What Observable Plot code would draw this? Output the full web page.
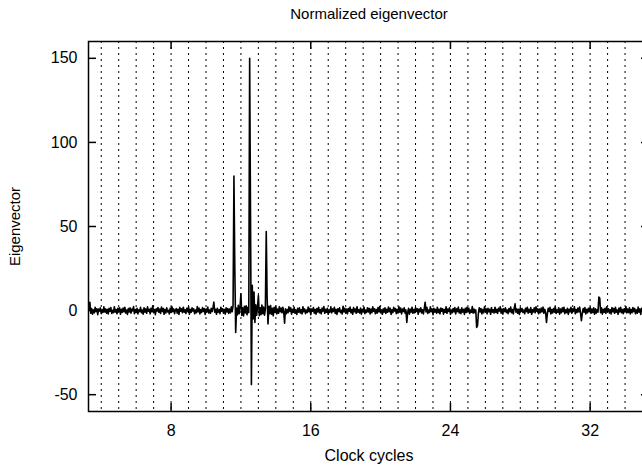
<!DOCTYPE html>
<html><head><meta charset="utf-8">
<script src="https://cdn.jsdelivr.net/npm/d3@7"></script>
<script src="https://cdn.jsdelivr.net/npm/@observablehq/plot@0.6"></script>
<style>body{margin:0;background:#fff;overflow:hidden} svg{display:block}</style>
</head><body><div id="chart"></div>
<script>
const title = "Normalized eigenvector";
const xLabel = "Clock cycles";
const yLabel = "Eigenvector";
const xTicks = [8, 16, 24, 32];
const yTicks = [-50, 0, 50, 100, 150];
const gridX = [4,5,6,7,8,9,10,11,12,13,14,15,16,17,18,19,20,21,22,23,24,25,26,27,28,29,30,31,32,33,34,35];
const xStart = 3.3, xStep = 0.05;
const eigen = [
0.8, 5, -1.6, 1.2, -2.1, 0.4, -1.3, 1.9, -0.6, 1.1, -2.4, 0.9, -0.3, 1.6, -1.8, 0.5, -1.1, 2.2, -0.8, 1.0,
-1.5, 0.7, -2.0, 1.4, -0.4, 1.8, -1.7, 0.2, -1.2, 2.3, -0.9, 0.6, -1.9, 1.3, -0.5, 1.7, -2.2, 0.8, -1.0, 1.5,
-0.7, 2.0, -1.4, 0.3, -2.3, 1.2, -0.8, 1.6, -1.5, 0.9, -0.2, 2.4, -1.8, 0.6, -1.1, 1.3, -2.0, 0.5, -0.6, 1.9,
-1.3, 0.4, -2.1, 1.7, -0.9, 1.0, -1.6, 2.2, -0.4, 0.8, -1.9, 1.4, -0.7, 2.8, -1.2, 0.6, -2.4, 1.1, -0.3, 1.8,
-1.0, 0.9, -1.7, 2.1, -0.5, 1.3, -2.2, 0.7, -1.4, 1.6, -0.8, 0.2, -2.0, 1.5, -1.1, 2.3, -0.6, 1.0, -1.8, 0.4,
1.2, -1.5, 0.8, -2.3, 1.9, -0.4, 1.1, -1.2, 2.0, -0.9, 0.5, -1.7, 1.4, -0.6, 2.2, -2.1, 0.7, -1.0, 1.6, -0.3,
1.0, -1.9, 0.3, -1.3, 2.4, -0.7, 1.5, -2.0, 0.6, -1.1, 1.8, -0.5, 1.2, -2.3, 0.9, -0.8, 2.1, -1.4, 0.4, -1.6,
1.3, -0.6, 1.7, 5, -0.9, 0.8, -2.2, 1.4, -1.0, 0.5, -1.8, 2.0, -0.4, 1.1, -1.5, 0.7, -2.1, 1.6, -0.8, 1.2,
-1.7, 0.9, -1.3, 2.2, -0.6, 3.0, 80, 25, -13, 1.5, -2.6, 3.1, -1.8, 2.4, 10, -2.9, 1.7, -3.2, 2.6, -1.4,
2.8, -2.5, 1.9, -1.2, 150, 55, -44, 15, -5, 11, -7, 3.4, -2.8, 2.2, 9, -3.0, 1.6, -2.4, 3.3, -1.9,
2.1, -2.7, 1.2, 47, 8, -8, 2.6, -1.8, 3.0, -2.2, 1.4, -3.1, 2.0, -1.1, 2.5, -2.0, 0.9, -1.6, 2.3, -0.7,
1.5, -1.3, 2.0, -0.8, -7.5, 1.1, -1.9, 0.6, -1.2, 2.2, -0.5, 1.7, -2.1, 0.8, -1.0, 1.9, -1.6, 0.4, -2.3, 1.3,
-0.9, 1.6, -1.4, 0.5, -2.0, 2.3, -0.7, 1.0, -1.8, 0.3, -1.1, 2.1, -0.6, 1.4, -2.4, 0.9, -0.4, 1.8, -1.5, 0.7,
-2.1, 1.2, -0.8, 2.0, -1.3, 0.6, -1.9, 1.5, -0.3, 2.4, -1.6, 0.8, -1.0, 1.3, -2.2, 0.4, -0.9, 2.2, -1.4, 1.0,
-0.5, 1.9, -1.7, 0.7, -2.3, 1.1, -0.6, 1.6, -1.2, 0.2, -2.0, 2.6, -0.8, 1.4, -1.5, 0.9, -1.9, 1.2, -0.4, 2.1,
-1.3, 0.6, -2.2, 1.8, -0.7, 1.0, -1.6, 2.3, -1.0, 0.5, -1.4, 1.5, -2.1, 0.8, -0.5, 2.0, -1.8, 0.3, -1.1, 1.7,
-0.8, 1.3, -2.0, 0.9, -1.2, 2.2, -0.4, 1.1, -1.9, 0.6, -1.5, 1.8, -0.7, 2.4, -1.3, 0.4, -2.2, 1.0, -0.9, 1.6,
-1.7, 0.8, -1.0, 2.1, -0.6, 1.4, -2.3, 0.5, -1.2, 1.9, -0.3, 1.2, -1.8, 0.7, -1.4, 2.3, -0.9, 1.5, -2.0, 0.9,
-0.6, 1.7, -1.5, 0.4, -7, -1.1, 1.3, -2.1, 0.8, -0.9, 2.0, -1.6, 0.6, -1.3, 1.8, -0.5, 1.1, -2.2, 0.9, -0.7,
1.6, -1.4, 0.5, -2.0, 1.2, 5, -0.8, 1.9, -1.7, 0.3, -1.1, 2.2, -0.6, 1.0, -2.4, 1.4, -0.9, 0.7, -1.5, 2.0,
-1.2, 0.8, -1.9, 1.5, -0.4, 1.1, -2.1, 0.6, -1.0, 2.3, -1.6, 0.9, -0.5, 1.7, -2.2, 0.4, -1.3, 1.2, -0.7, 1.8,
-2.0, 1.0, -0.6, 2.1, -1.4, 0.5, -1.8, 1.6, -0.9, 0.7, -2.3, 1.3, -1.1, 2.0, -0.4, 1.5, -1.7, 0.3, -1.0, 2.4,
-1.5, 0.9, -1.2, 0.4, -10, -9, -1.6, 1.7, -0.8, 1.2, -2.0, 0.6, -1.3, 2.2, -0.5, 1.0, -1.9, 1.4, -0.7, 0.8,
-2.2, 1.8, -0.9, 0.5, -1.4, 2.0, -1.1, 0.7, -1.7, 1.3, -0.3, 2.3, -1.5, 0.9, -2.1, 1.1, -0.6, 1.6, -1.2, 0.4,
-1.8, 1.2, -0.7, 2.1, -1.3, 0.6, -2.0, 1.5, 4, -0.9, 1.0, -1.6, 0.8, -2.3, 1.7, -0.5, 1.2, -1.1, 0.3, -1.9,
1.4, -0.6, 2.0, -1.5, 0.7, -1.0, 1.8, -2.2, 0.5, -0.8, 1.6, -1.3, 2.2, -0.4, 1.1, -1.9, 0.9, -1.2, 1.5, -0.7,
2.1, -1.6, 0.8, -1.1, -7, -1.8, 1.3, -0.5, 1.9, -2.0, 0.6, -1.4, 1.2, -0.9, 2.3, -1.7, 0.4, -1.0, 1.7, -2.1,
0.9, -1.3, 1.6, -0.6, 2.0, -1.8, 0.5, -1.2, 1.4, -2.3, 0.8, -0.7, 1.9, -1.5, 1.0, -0.4, 2.2, -1.9, 0.6, -1.1,
1.5, -0.8, 2.1, -1.4, -6, -1.7, 1.2, -0.9, 1.8, -2.0, 0.7, -1.3, 1.4, -0.5, 2.0, -1.6, 0.9, -1.1, 1.6, -2.2,
1.0, -1.5, 0.6, -0.9, 8, 7.5, -1.2, 1.7, -2.1, 0.8, -1.0, 1.3, -1.7, 2.2, -0.6, 1.1, -1.4, 0.5, -2.0, 1.8,
-0.7, 1.2, -1.6, 2.0, -1.0, 0.4, -2.2, 1.5, -0.8, 1.9, -1.3, 0.6, -1.8, 1.1, -0.5, 2.3, -1.4, 0.9, -1.1, 1.6,
-2.0, 0.7, -1.2, 1.8, -0.6, 1.3, -1.9, 0.5, -1.5, 2.1, -0.9, 1.0, -2.3, 1.4, -0.4, 1.7, -1.1, 0.8, -1.6, 2.0,
-1.0, 1.2, -0.8
];
const data = eigen.map((v, i) => ({x: xStart + i * xStep, y: v}));

const font = "'Liberation Sans', Arial, Helvetica, sans-serif";
const W = 642, H = 465, mT = 41, mB = 54, mL = 88, mR = -7, tick = 8;
const plotW = W - mL - mR, plotH = H - mT - mB;
const chart = Plot.plot({
  width: W,
  height: H,
  marginTop: mT,
  marginBottom: mB,
  marginLeft: mL,
  marginRight: mR,
  x: {domain: [3.27, 35.4]},
  y: {domain: [-60, 160]},
  style: {fontFamily: font, fontSize: "16px", background: "white", color: "black", overflow: "hidden"},
  marks: [
    Plot.ruleX(gridX, {stroke: "black", strokeWidth: 1, strokeDasharray: "2,4"}),
    Plot.line(data, {x: "x", y: "y", stroke: "black", strokeWidth: 1.6}),
    Plot.frame({stroke: "black", strokeWidth: 1.5}),
    Plot.ruleX(xTicks, {stroke: "black", strokeWidth: 1.5, insetTop: plotH - tick}),
    Plot.ruleX(xTicks, {stroke: "black", strokeWidth: 1.5, insetBottom: plotH - tick}),
    Plot.ruleY(yTicks, {stroke: "black", strokeWidth: 1.5, insetRight: plotW - tick}),
    Plot.ruleY(yTicks, {stroke: "black", strokeWidth: 1.5, insetLeft: plotW - tick}),
    Plot.axisX(xTicks, {anchor: "bottom", tickSize: 0, tickPadding: 13, label: null, fontSize: 16, tickFormat: d => String(d)}),
    Plot.axisY(yTicks, {anchor: "left", tickSize: 0, tickPadding: 11, label: null, fontSize: 16, tickFormat: d => String(d)}),
    Plot.text([title], {text: d => d, frameAnchor: "top", textAnchor: "middle", dy: -27, lineAnchor: "middle", fontSize: 15}),
    Plot.text([xLabel], {text: d => d, frameAnchor: "bottom", textAnchor: "middle", dy: 44, lineAnchor: "middle", fontSize: 16}),
    Plot.text([yLabel], {text: d => d, frameAnchor: "left", textAnchor: "middle", dx: -73, rotate: -90, lineAnchor: "middle", fontSize: 15})
  ]
});
document.getElementById("chart").appendChild(chart);
</script>
</body></html>
